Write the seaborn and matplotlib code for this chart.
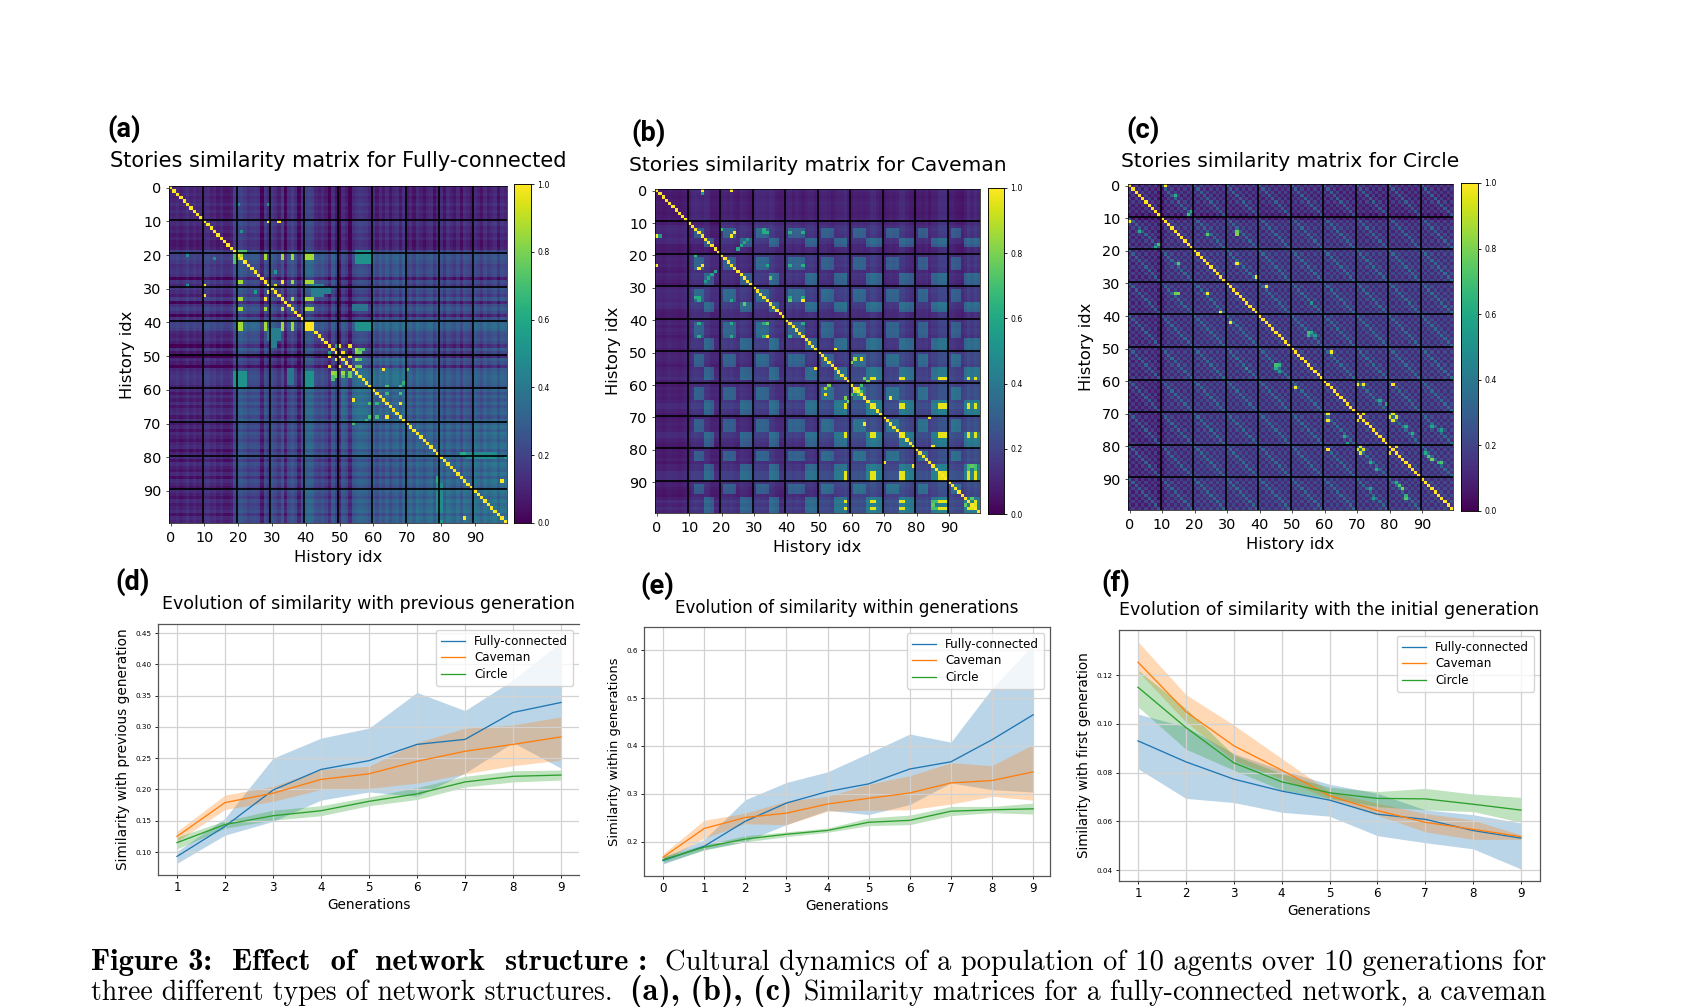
import numpy as np
import pandas as pd
import matplotlib
matplotlib.use("Agg")
import matplotlib.pyplot as plt
import seaborn as sns

FIG_W, FIG_H = 1684, 1007

# ---------------------------------------------------------------- line panels
networks = ["Fully-connected", "Caveman", "Circle"]
line_colors = ["#1f77b4", "#ff7f0e", "#2ca02c"]

gen_from_one = [1, 2, 3, 4, 5, 6, 7, 8, 9]
gen_from_zero = [0, 1, 2, 3, 4, 5, 6, 7, 8, 9]

prev_mean = [[.093, .141, .199, .232, .246, .272, .280, .323, .339],
             [.125, .179, .194, .216, .225, .245, .261, .272, .284],
             [.115, .144, .158, .166, .181, .193, .212, .221, .223]]
prev_high = [[.101, .154, .250, .282, .298, .355, .326, .375, .436],
             [.133, .191, .205, .232, .237, .275, .298, .303, .316],
             [.124, .150, .167, .174, .188, .203, .221, .230, .231]]
prev_low = [[.082, .127, .149, .183, .196, .189, .226, .275, .234],
            [.117, .168, .181, .200, .202, .210, .225, .238, .247],
            [.105, .138, .151, .158, .174, .184, .204, .212, .215]]

within_mean = [[.161, .191, .243, .281, .305, .321, .352, .367, .413, .465],
               [.168, .228, .251, .260, .279, .291, .302, .323, .328, .346],
               [.163, .189, .206, .216, .224, .241, .245, .264, .267, .269]]
within_high = [[.168, .205, .288, .324, .346, .385, .425, .408, .520, .611],
               [.175, .245, .260, .285, .295, .320, .338, .365, .359, .403],
               [.170, .194, .213, .221, .229, .250, .256, .274, .274, .281]]
within_low = [[.154, .184, .201, .236, .266, .257, .278, .323, .309, .304],
              [.161, .208, .238, .236, .264, .266, .267, .279, .295, .287],
              [.156, .183, .200, .211, .220, .234, .236, .255, .261, .258]]

first_mean = [[.0930, .0844, .0773, .0724, .0687, .0629, .0608, .0562, .0531],
              [.1253, .1050, .0910, .0810, .0705, .0644, .0596, .0567, .0537],
              [.1150, .0985, .0840, .0762, .0717, .0694, .0692, .0670, .0646]]
first_high = [[.1040, .0988, .0878, .0810, .0752, .0715, .0647, .0627, .0593],
              [.1337, .1120, .0995, .0858, .0722, .0674, .0632, .0605, .0544],
              [.1220, .1063, .0872, .0795, .0740, .0722, .0735, .0712, .0698]]
first_low = [[.0816, .0694, .0677, .0637, .0621, .0541, .0512, .0487, .0404],
             [.1215, .1008, .0850, .0775, .0690, .0625, .0557, .0526, .0526],
             [.1070, .0896, .0810, .0728, .0694, .0660, .0647, .0640, .0596]]

# ---------------------------------------------------------------- matrix panels
# Mean similarity between generations (upper triangle, row by row).
blocks_a = [[.11, .09, .12, .11, .11, .09, .09, .08, .08, .08],
            [.10, .13, .12, .13, .11, .11, .09, .09, .09],
            [.17, .17, .22, .15, .21, .18, .16, .16],
            [.17, .17, .13, .18, .19, .18, .18],
            [.20, .19, .24, .23, .19, .23],
            [.25, .30, .25, .21, .23],
            [.29, .27, .23, .25],
            [.28, .27, .30],
            [.28, .31],
            [.32]]
blocks_b = [[.07, .10, .08, .09, .08, .08, .07, .07, .07, .07],
            [.10, .13, .14, .13, .12, .12, .11, .11, .11],
            [.11, .14, .14, .12, .12, .10, .11, .11],
            [.13, .15, .14, .13, .12, .13, .12],
            [.13, .14, .14, .13, .13, .13],
            [.14, .18, .16, .16, .17],
            [.20, .18, .18, .19],
            [.18, .18, .19],
            [.18, .19],
            [.19]]
blocks_c = [[.07, .08, .08, .08, .08, .08, .07, .07, .07, .07],
            [.09, .10, .10, .10, .10, .10, .09, .09, .09],
            [.11, .11, .11, .11, .11, .11, .11, .11],
            [.11, .11, .11, .11, .11, .11, .11],
            [.11, .11, .11, .11, .11, .11],
            [.11, .11, .11, .11, .11],
            [.11, .11, .11, .11],
            [.11, .11, .11],
            [.11, .11],
            [.11]]

# Per-story offsets: stories that stay closer to, or further from, everything else.
offsets_a = [0, -.01, .01, -.02, 0, .03, -.01, .02, -.01, 0,
             .03, .04, 0, .02, -.02, .01, -.03, -.03, -.01, .10,
             .07, .08, .05, .01, .03, .04, .02, -.11, .04, -.01,
             .05, .02, -.03, .06, -.10, .03, .07, .02, -.10, .04,
             .08, .09, .07, 0, -.02, .01, -.03, -.11, .03, -.05,
             -.13, .03, -.01, -.13, .02, .05, .07, .06, .05, .01,
             .03, -.03, .03, -.02, .04, -.03, .02, .04, -.03, .05,
             -.01, .03, -.03, .04, .01, -.03, .02, .04, -.04, .02,
             .04, -.03, .05, .01, -.02, .04, -.04, .05, .02, -.02,
             .04, .01, -.03, .04, -.01, .02, .05, -.03, .04, .02]
offsets_b = [.01, 0, -.01, 0, .01, 0, 0, -.01, 0, .01,
             -.02, .01, .02, .01, 0, .02, .01, -.03, -.03, -.03,
             .01, .02, .01, .02, 0, -.01, .02, .01, 0, -.02,
             .01, .03, .02, .02, .01, .03, .02, -.01, -.02, -.02,
             .01, .02, 0, .02, .01, -.01, .01, .02, .02, 0,
             .01, .02, .02, .01, -.01, .01, .02, .02, .04, 0,
             0, .02, .01, .02, .01, .02, .05, .05, .02, 0,
             -.01, .01, .02, .01, .02, .05, .05, .02, 0, -.01,
             0, .01, 0, .02, -.01, .02, .02, .06, .06, .06,
             .01, .02, 0, -.01, -.02, .01, .05, .02, .05, .02]
offsets_c = [.01, 0, .01, -.01, 0, .01, 0, -.01, .01, -.04,
             -.06, 0, .01, .01, 0, .01, 0, .01, 0, .02,
             0, .01, 0, .01, 0, .01, 0, .01, 0, .01,
             0, .01, 0, .01, 0, .01, 0, .01, 0, .01,
             .01, 0, .01, 0, .01, 0, .01, 0, .01, 0,
             0, .01, 0, .01, 0, .01, 0, .01, 0, .01,
             .01, 0, .01, 0, .01, 0, .01, 0, .01, 0,
             0, .01, 0, .01, 0, .01, 0, .01, 0, .01,
             .01, 0, .01, 0, .01, 0, .01, 0, .01, 0,
             0, .01, 0, .01, 0, .01, 0, .01, 0, .01]

# Stories sharing a theme in the caveman network, with the similarity they gain.
themes_b = [([12, 13, 14, 21, 22, 23, 24, 31, 32, 33, 34, 41, 42, 43, 44, 45,
              51, 52, 53, 54, 61, 62, 63, 64, 71, 72, 73, 74, 81, 82, 83, 91, 92, 93], .16),
            ([15, 16, 17, 26, 27, 28, 29, 35, 36, 37, 46, 47, 48, 49, 55, 56, 57, 58,
              65, 66, 67, 68, 69, 75, 76, 77, 78, 79, 85, 86, 87, 88, 89,
              95, 96, 97, 98, 99], .17)]

# Position-to-position pattern shared by any two generations in the circle network.
motif_c = [[.23, .02, .12, .00, .10, .00, .10, .00, .10, .00],
           [.02, .23, .02, .12, .00, .10, .00, .10, .00, .10],
           [.12, .02, .23, .02, .12, .00, .10, .00, .10, .00],
           [.00, .12, .02, .23, .02, .12, .00, .10, .00, .10],
           [.10, .00, .12, .02, .23, .02, .12, .00, .10, .00],
           [.00, .10, .00, .12, .02, .23, .02, .12, .00, .10],
           [.10, .00, .10, .00, .12, .02, .23, .02, .12, .00],
           [.00, .10, .00, .10, .00, .12, .02, .23, .02, .12],
           [.10, .00, .10, .00, .10, .00, .12, .02, .23, .02],
           [.00, .10, .00, .10, .00, .10, .00, .12, .02, .23]]

# Groups of near-identical stories.
twins_a = [([20, 21, 28, 33, 36, 40, 41, 42], .86), ([40, 41, 42], 1.0),
           ([47, 50, 53], .97), ([49, 51], .97)]
twins_b = [([58, 66, 67, 75, 76, 87, 88, 89, 96, 98], .96), ([13, 33, 41, 45], .62),
           ([23, 41, 45], .62)]

# Rectangles of raised similarity: first row, end row, first column, end column, value.
patches_a = [(19, 23, 55, 60, .37), (55, 60, 19, 23, .50), (55, 60, 40, 43, .50),
             (30, 32, 43, 48, .42), (42, 46, 29, 33, .42), (35, 37, 54, 59, .38),
             (79, 81, 88, 97, .48), (19, 23, 19, 20, .72)]
patches_b = [(85, 90, 96, 97, .7), (85, 90, 98, 99, .7)]

# Single story pairs: row, column, value.
pairs_a = [(10, 29, 1), (10, 32, 1), (54, 63, 1), (58, 69, .7), (61, 68, .62), (64, 68, 1),
           (64, 59, .7), (64, 61, .7), (68, 59, .7), (68, 61, .7), (68, 64, 1), (69, 58, .65),
           (61, 64, .66), (54, 70, .7), (87, 98, 1), (29, 31, .95), (28, 33, 1), (25, 31, .55),
           (48, 55, .85), (48, 56, .72), (48, 57, .72), (51, 55, .85), (51, 56, .72),
           (49, 55, .8), (53, 55, .78), (49, 56, .78), (53, 56, .78), (47, 49, .55),
           (5, 20, .5), (29, 5, .5), (21, 13, .5), (79, 87, .62), (86, 79, .6), (99, 80, .55)]
pairs_b = [(0, 14, 1), (0, 23, 1), (13, 24, 1), (14, 23, 1), (27, 35, .85), (35, 27, .75),
           (34, 45, 1), (34, 41, .75), (18, 25, .6), (17, 26, .6), (16, 27, .6), (15, 28, .55),
           (49, 55, 1), (52, 61, .85), (52, 63, 1), (53, 60, .8), (60, 53, .8), (58, 64, .8),
           (59, 65, .8), (60, 63, .7), (61, 62, .9), (64, 72, 1), (70, 84, 1), (79, 85, 1),
           (62, 63, .7), (72, 64, 1), (14, 1, .55), (12, 20, .66), (12, 33, .62), (34, 13, .62),
           (23, 34, .6), (97, 95, .75), (98, 97, .95), (97, 85, .85), (86, 96, .7), (85, 97, .75)]
pairs_c = [(0, 11, 1), (28, 39, 1), (24, 33, 1), (31, 42, 1), (33, 15, .8), (51, 62, 1),
           (61, 70, 1), (61, 72, 1), (61, 81, 1), (70, 81, .95), (72, 81, .95), (71, 80, .95),
           (71, 82, .95), (70, 72, .95), (80, 82, .95),
           (3, 14, .62), (9, 18, .68), (8, 19, .62), (15, 24, .78), (14, 33, .78),
           (24, 15, .74), (45, 56, .62), (36, 56, .55), (46, 55, .65), (84, 93, .8),
           (83, 92, .72), (82, 91, .62), (74, 93, .58), (96, 85, .72), (85, 95, .65),
           (79, 67, .6), (67, 79, .6), (85, 74, .62), (87, 76, .62), (66, 77, .6), (75, 96, .55),
           (55, 45, .7), (57, 46, .55)]

story_ticks = [0, 10, 20, 30, 40, 50, 60, 70, 80, 90]


def similarity_matrix(blocks, offsets, motif=None, themes=(), twins=(), patches=(), pairs=()):
    """Assemble a symmetric story-by-story similarity table."""
    n = len(offsets)
    table = np.zeros((10, 10))
    for g, row in enumerate(blocks):
        table[g, g:] = row
        table[g:, g] = row
    offs = np.array(offsets)
    mat = np.zeros((n, n))
    for i in range(n):
        for j in range(n):
            value = table[i // 10, j // 10] + offs[i] + offs[j]
            if motif is not None:
                value += motif[i % 10][j % 10]
            mat[i, j] = value
    for members, gain in themes:
        idx = np.array(members)
        mat[np.ix_(idx, idx)] += gain
    for r0, r1, c0, c1, value in patches:
        mat[r0:r1, c0:c1] = value
        mat[c0:c1, r0:r1] = value
    for members, value in twins:
        idx = np.array(members)
        mat[np.ix_(idx, idx)] = value
    for r, c, value in pairs:
        mat[r, c] = value
        mat[c, r] = value
    np.fill_diagonal(mat, 1.0)
    return np.clip(mat, 0, 1)


def axes_px(fig, left, top, right, bottom):
    return fig.add_axes([left / FIG_W, 1 - bottom / FIG_H,
                         (right - left) / FIG_W, (bottom - top) / FIG_H])


def draw_matrix(fig, box, cbar_box, mat, title, title_size, title_pad):
    ax = axes_px(fig, *box)
    cax = axes_px(fig, *cbar_box)
    sns.heatmap(mat, ax=ax, cbar_ax=cax, cmap="viridis", vmin=0, vmax=1,
                xticklabels=False, yticklabels=False)
    centers = np.array(story_ticks) + 0.5
    ax.set_xticks(centers, labels=story_ticks, rotation=0)
    ax.set_yticks(centers, labels=story_ticks, rotation=0)
    ax.tick_params(labelsize=10.4, length=2.5, width=.6, pad=3, color="#333333")
    ax.vlines(story_ticks[1:], 0, 100, color="black", lw=1.2)
    ax.hlines(story_ticks[1:], 0, 100, color="black", lw=1.2)
    for spine in ax.spines.values():
        spine.set_visible(True)
        spine.set_linewidth(.5)
    ax.set_xlabel("History idx", fontsize=11.8, labelpad=4)
    ax.set_ylabel("History idx", fontsize=11.8, labelpad=6)
    ax.set_title(title, fontsize=title_size, pad=title_pad)
    cax.set_yticks([0, .2, .4, .6, .8, 1.0], labels=["0.0", "0.2", "0.4", "0.6", "0.8", "1.0"])
    cax.tick_params(labelsize=5.6, length=2.5, width=.6, pad=2)
    for spine in cax.spines.values():
        spine.set_visible(True)
        spine.set_linewidth(.5)
    return ax


def draw_lines(fig, box, generations, mean, high, low, title, ylabel, xlim, ylim, yticks,
               title_size, ylabel_size, title_pad, right_spine=True):
    ax = axes_px(fig, *box)
    rows = [{"generation": g, "similarity": v, "network": name}
            for name, values in zip(networks, mean) for g, v in zip(generations, values)]
    sns.lineplot(data=pd.DataFrame(rows), x="generation", y="similarity", hue="network",
                 hue_order=networks, palette=line_colors, lw=.95, errorbar=None, ax=ax)
    for color, hi, lo in zip(line_colors, high, low):
        ax.fill_between(generations, lo, hi, color=color, alpha=.3, lw=0)
    ax.set_xlim(*xlim)
    ax.set_ylim(*ylim)
    ax.set_xticks(generations)
    ax.set_yticks(yticks)
    ax.tick_params(axis="x", labelsize=8.6, length=2.5, width=.6, pad=2)
    ax.tick_params(axis="y", labelsize=5.2, length=2.5, width=.6, pad=2)
    ax.grid(True, color="#d2d2d2", lw=.9)
    ax.set_xlabel("Generations", fontsize=9.85, labelpad=3)
    ax.set_ylabel(ylabel, fontsize=ylabel_size, labelpad=4)
    ax.set_title(title, fontsize=title_size, pad=title_pad)
    ax.legend(title=None, fontsize=8.6, loc="upper right", labelspacing=.3)
    for spine in ax.spines.values():
        spine.set_linewidth(.9)
        spine.set_color("#555555")
    ax.spines["right"].set_visible(right_spine)
    return ax


def fitted_text(fig, renderer, left_px, baseline_px, right_px, text, family):
    """Set a caption fragment so it spans left_px to right_px."""
    artist = fig.text(left_px / FIG_W, 1 - baseline_px / FIG_H, text, family=family,
                      fontsize=15, va="baseline", ha="left")
    width = artist.get_window_extent(renderer).width
    artist.set_fontsize(15 * (right_px - left_px) / width)


fig = plt.figure(figsize=(FIG_W / 100, FIG_H / 100), dpi=100)

matrix_a = similarity_matrix(blocks_a, offsets_a, twins=twins_a, patches=patches_a, pairs=pairs_a)
matrix_b = similarity_matrix(blocks_b, offsets_b, themes=themes_b, twins=twins_b,
                             patches=patches_b, pairs=pairs_b)
matrix_c = similarity_matrix(blocks_c, offsets_c, motif=motif_c, pairs=pairs_c)

draw_matrix(fig, (169, 186, 507, 523), (514, 184, 531, 523), matrix_a,
            "Stories similarity matrix for Fully-connected", 15.06, 14)
draw_matrix(fig, (655, 189, 980, 513), (988, 188, 1004, 514), matrix_b,
            "Stories similarity matrix for Caveman", 14.5, 13)
draw_matrix(fig, (1128, 184, 1453, 510), (1461, 183, 1478, 511), matrix_c,
            "Stories similarity matrix for Circle", 14.5, 12)

draw_lines(fig, (158, 624, 579, 875), gen_from_one, prev_mean, prev_high, prev_low,
           "Evolution of similarity with previous generation",
           "Similarity with previous generation", (.604, 9.375), (.0633, .4644),
           [.10, .15, .20, .25, .30, .35, .40, .45], 12.5, 9.9, 11, right_spine=False)
draw_lines(fig, (644, 627, 1050, 876), gen_from_zero, within_mean, within_high, within_low,
           "Evolution of similarity within generations",
           "Similarity within generations", (-.462, 9.41), (.129, .648),
           [.2, .3, .4, .5, .6], 12.05, 9.4, 10)
draw_lines(fig, (1119, 630, 1540, 881), gen_from_one, first_mean, first_high, first_low,
           "Evolution of similarity with the initial generation",
           "Similarity with first generation", (.603, 9.397), (.0355, .1385),
           [.04, .06, .08, .10, .12], 12.47, 9.76, 11)

# Panel letters
panel_letters = ["(a)", "(b)", "(c)", "(d)", "(e)", "(f)"]
letter_left = [107, 631, 1126, 115, 640, 1101]
letter_mid = [129, 133, 130, 582, 586, 583]
for letter, x_px, y_px in zip(panel_letters, letter_left, letter_mid):
    fig.text(x_px / FIG_W, 1 - y_px / FIG_H, letter, family="Roboto",
             fontweight="bold", fontsize=19.5, va="center", ha="left")

# Figure caption
fig.canvas.draw()
renderer = fig.canvas.get_renderer()
fitted_text(fig, renderer, 91, 970, 650, "Figure 3:  Effect  of  network  structure :", "cmb10")
fitted_text(fig, renderer, 665, 970, 1549, "Cultural dynamics of a population of 10 agents over 10 generations for", "cmr10")
fitted_text(fig, renderer, 91, 1000, 614, "three different types of network structures.", "cmr10")
fitted_text(fig, renderer, 630, 1000, 793, "(a), (b), (c)", "cmb10")
fitted_text(fig, renderer, 804, 1000, 1549, "Similarity matrices for a fully-connected network, a caveman", "cmr10")

fig.savefig("out.png", dpi=100)
